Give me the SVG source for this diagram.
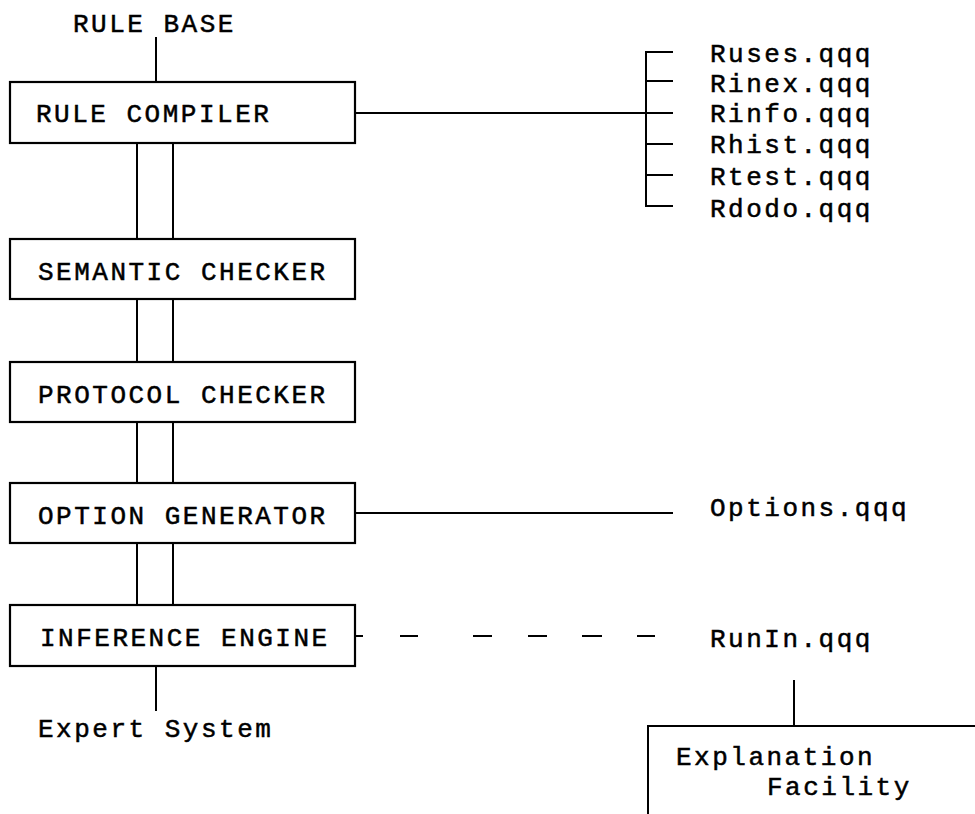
<svg xmlns="http://www.w3.org/2000/svg" width="975" height="814" viewBox="0 0 975 814">
  <style>
    .box { fill: #fff; stroke: #000; stroke-width: 2.2; }
    .ln { fill: none; stroke: #000; stroke-width: 2; }
    .t { font-family: "Liberation Mono", "Courier New", monospace; font-size: 26px; letter-spacing: 2.5px; fill: #000; stroke: #000; stroke-width: 0.5; }
  </style>
  <rect width="975" height="814" fill="#fff"/>

  <!-- connectors -->
  <g id="connectors">
    <!-- rule base feed -->
    <line class="ln" x1="156" y1="37" x2="156" y2="82"/>
    <!-- double links between stages -->
    <line class="ln" x1="137" y1="143" x2="137" y2="239"/>
    <line class="ln" x1="173" y1="143" x2="173" y2="239"/>
    <line class="ln" x1="137" y1="299" x2="137" y2="362"/>
    <line class="ln" x1="173" y1="299" x2="173" y2="362"/>
    <line class="ln" x1="137" y1="422" x2="137" y2="483"/>
    <line class="ln" x1="173" y1="422" x2="173" y2="483"/>
    <line class="ln" x1="137" y1="543" x2="137" y2="605"/>
    <line class="ln" x1="173" y1="543" x2="173" y2="605"/>
    <!-- expert system output -->
    <line class="ln" x1="156" y1="666" x2="156" y2="711"/>
    <!-- compiler output files -->
    <line class="ln" x1="355" y1="113" x2="673" y2="113"/>
    <path class="ln" d="M673,52 H646 V206 H673"/>
    <line class="ln" x1="646" y1="81" x2="673" y2="81"/>
    <line class="ln" x1="646" y1="144" x2="673" y2="144"/>
    <line class="ln" x1="646" y1="175" x2="673" y2="175"/>
    <!-- options file -->
    <line class="ln" x1="355" y1="513" x2="673" y2="513"/>
    <!-- run-in file (dashed) -->
    <g class="ln">
      <line x1="355" y1="636" x2="363" y2="636"/>
      <line x1="400" y1="636" x2="418" y2="636"/>
      <line x1="473" y1="636" x2="492" y2="636"/>
      <line x1="528" y1="636" x2="547" y2="636"/>
      <line x1="582" y1="636" x2="602" y2="636"/>
      <line x1="637" y1="636" x2="655" y2="636"/>
    </g>
    <!-- explanation facility link -->
    <line class="ln" x1="794" y1="680" x2="794" y2="726"/>
  </g>

  <text class="t" x="73" y="32">RULE BASE</text>

  <g id="rule-compiler">
    <rect class="box" x="10" y="82" width="345" height="61"/>
    <text class="t" x="36" y="122">RULE COMPILER</text>
  </g>
  <g id="semantic-checker">
    <rect class="box" x="10" y="239" width="345" height="60"/>
    <text class="t" x="38" y="280">SEMANTIC CHECKER</text>
  </g>
  <g id="protocol-checker">
    <rect class="box" x="10" y="362" width="345" height="60"/>
    <text class="t" x="38" y="403">PROTOCOL CHECKER</text>
  </g>
  <g id="option-generator">
    <rect class="box" x="10" y="483" width="345" height="60"/>
    <text class="t" x="38" y="524">OPTION GENERATOR</text>
  </g>
  <g id="inference-engine">
    <rect class="box" x="10" y="605" width="345" height="61"/>
    <text class="t" x="40" y="646">INFERENCE ENGINE</text>
  </g>

  <text class="t" x="38" y="737">Expert System</text>

  <g id="rule-files">
    <text class="t" x="710" y="62">Ruses.qqq</text>
    <text class="t" x="710" y="92">Rinex.qqq</text>
    <text class="t" x="710" y="122">Rinfo.qqq</text>
    <text class="t" x="710" y="153">Rhist.qqq</text>
    <text class="t" x="710" y="185">Rtest.qqq</text>
    <text class="t" x="710" y="217">Rdodo.qqq</text>
  </g>
  <g id="options-file">
    <text class="t" x="710" y="516">Options.qqq</text>
  </g>
  <g id="runin-file">
    <text class="t" x="710" y="647">RunIn.qqq</text>
  </g>

  <g id="explanation-facility">
    <path class="ln" d="M648,814 V726 H975"/>
    <text class="t" x="676" y="765">Explanation</text>
    <text class="t" x="767" y="795">Facility</text>
  </g>
</svg>
